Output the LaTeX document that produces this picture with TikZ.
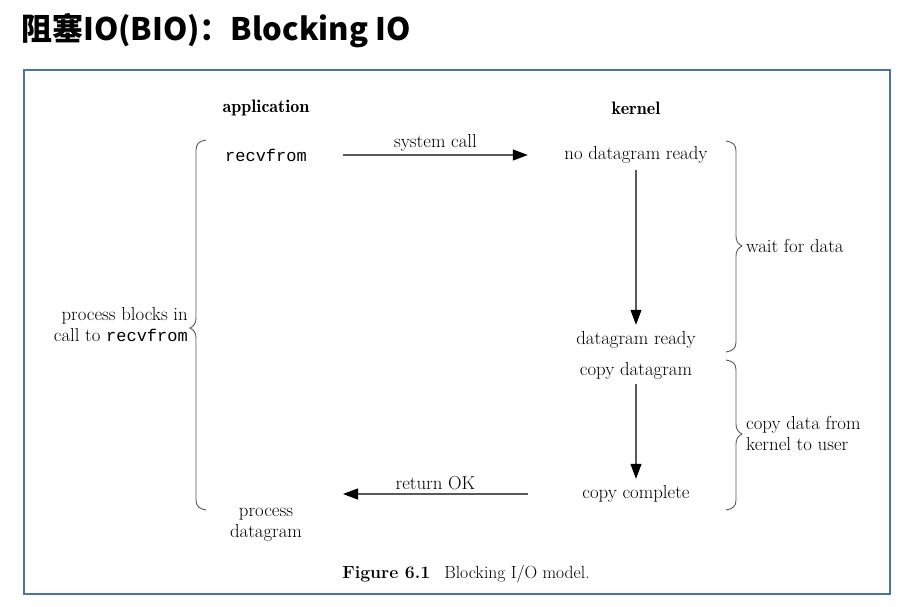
\documentclass[tikz,border=0pt]{standalone}
\usepackage{fontspec}
\setmonofont{Liberation Mono}
\newfontfamily\cjktitle{Noto Sans CJK SC}
\usetikzlibrary{arrows.meta}
\definecolor{framec}{RGB}{74,116,168}
\definecolor{linec}{RGB}{90,90,90}
\definecolor{txtc}{RGB}{0,0,0}
\begin{document}
\begin{tikzpicture}[x=1pt,y=-1pt,
  lbl/.style={inner sep=0pt,text=txtc,font=\fontsize{18.8}{21}\selectfont},
  hdr/.style={lbl,font=\fontsize{18}{21}\fontseries{b}\selectfont},
  appnode/.style={lbl,minimum width=154pt,minimum height=30pt},
  kernode/.style={lbl,minimum width=216pt,minimum height=30pt},
  flow/.style={draw=linec,line width=1.1pt,-{Triangle[length=15pt,width=11pt,fill=black,color=black]}},
  bracec/.style={draw=linec,line width=0.9pt},
  side/.style={lbl,align=left,anchor=west},
]
\useasboundingbox (0,0) rectangle (912,607);
\fill[white] (0,0) rectangle (912,607);
% title
\node[anchor=west,inner sep=0pt,font=\cjktitle\bfseries\fontsize{31}{35}\selectfont] (title) at (21,31) {阻塞IO(BIO)：Blocking IO};
% frame
\draw[framec,line width=1.2pt] (24,70) rectangle (890,594);
% headers
\node[hdr] (app) at (266,108) {application};
\node[hdr] (ker) at (636,108) {kernel};
% application side
\node[appnode] (recv) at (266,155) {\ttfamily\fontsize{17}{20}\selectfont recvfrom};
\node[appnode,align=center] (proc) at (266,525) {process\\datagram};
% kernel side
\node[kernode] (nodr) at (636,155) {no datagram ready};
\node[kernode] (dr) at (636,340) {datagram ready};
\node[kernode] (cd) at (636,371) {copy datagram};
\node[kernode] (cc) at (636,494) {copy complete};
\coordinate (rok) at (343,494);
% arrows
\draw[flow] (recv.east) -- node[lbl,above=3pt] (sc) {system call} (nodr.west);
\draw[flow] (nodr.south) -- (dr.north);
\draw[flow] ([yshift=2pt]cd.south) -- (cc.north);
\draw[flow] (cc.west) -- node[lbl,above=4pt] (ret) {return OK} (rok);
% left brace
\draw[bracec] (206,140) .. controls (199,141) and (196,144) .. (196,150)
  -- (196,318) .. controls (196,323) and (194,326) .. (190,328)
  .. controls (194,330) and (196,333) .. (196,338)
  -- (196,500) .. controls (196,506) and (199,509) .. (206,510);
\node[lbl,align=right,anchor=east] (blk) at (188,325) {process blocks in\\call to {\ttfamily\fontsize{17}{20}\selectfont recvfrom}};
% right brace 1
\draw[bracec] (726,141) .. controls (733,142) and (736,145) .. (736,151)
  -- (736,236) .. controls (736,241) and (738,244) .. (742,246)
  .. controls (738,248) and (736,251) .. (736,256)
  -- (736,342) .. controls (736,348) and (733,351) .. (726,352);
\node[side] (wait) at (746,246) {wait for data};
% right brace 2
\draw[bracec] (726,360) .. controls (733,361) and (736,364) .. (736,370)
  -- (736,424) .. controls (736,429) and (738,432) .. (742,434)
  .. controls (738,436) and (736,439) .. (736,444)
  -- (736,500) .. controls (736,506) and (733,509) .. (726,510);
\node[side] (copy) at (746,433) {copy data from\\kernel to user};
% caption
\node[lbl,font=\fontsize{17.6}{20}\selectfont] (cap) at (466,574) {\textbf{Figure 6.1}\hspace{0.8em}Blocking I/O model.};
\end{tikzpicture}
\end{document}
